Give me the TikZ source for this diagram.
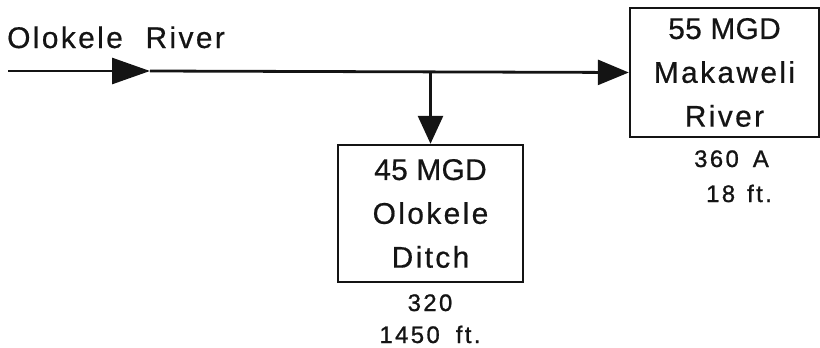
\documentclass[tikz,border=0pt]{standalone}
\usepackage{fontspec}
\setmainfont{Liberation Sans}
\newfontfamily\boxfont[LetterSpace=8,FakeBold=0.6]{Liberation Sans}
\newfontfamily\mgdfont[LetterSpace=1,FakeBold=0.6]{Liberation Sans}
\newfontfamily\tagfont[LetterSpace=10,FakeBold=1]{Liberation Sans}
\usetikzlibrary{arrows.meta,positioning}
\definecolor{dgInk}{HTML}{141414}
\tikzset{
 chart/.style={line join=miter,text=dgInk,x=1bp,y=1bp},
 flowbox/.style={rectangle,draw=dgInk,line width=2.4pt,inner sep=0pt,align=center,
   font=\boxfont\fontsize{30}{44}\selectfont},
 channel/.style={draw=dgInk,line width=2.8pt},
 headL/.style={-{Triangle[length=38bp,width=26bp]}},
 headM/.style={-{Triangle[length=31bp,width=25bp]}},
 headS/.style={-{Triangle[length=28bp,width=25bp]}},
 rivertitle/.style={font=\boxfont\fontsize{30}{36}\selectfont,inner sep=0pt,anchor=base west},
 tag/.style={font=\tagfont\fontsize{24}{28}\selectfont,inner sep=0pt,anchor=base}
}

\begin{document}
\begin{tikzpicture}[chart]
 \useasboundingbox (0,0) rectangle (820,347);
 % the two boxes
 \node[flowbox,minimum width=189bp,minimum height=129bp] (makaweli) at (724.5,274.5)
   {{\mgdfont 55 MGD}\\Makaweli\\River};
 \node[flowbox,minimum width=185bp,minimum height=137bp] (ditch) at (430.5,133.5)
   {{\mgdfont 45 MGD}\\Olokele\\Ditch};
 \node[rivertitle] (rivername) at (7,299) {Olokele\hspace{12bp} River};
 % river line
 \coordinate (src) at (8,276);
 \coordinate (mid) at (150,276);
 \coordinate (split) at (430.5,276);
 \draw[channel,headL] (src) -- (mid);
 \draw[channel,headM] (mid) -- (makaweli.west);
 \draw[channel,headS] (split) -- (ditch.north);
 % figures under the boxes
 \node[tag] (makArea) at (731.5,180) {360\hspace{14bp}A};
 \node[tag] (makHead) at (739,145) {18\hspace{12bp}ft.};
 \node[tag] (ditchArea) at (430,36) {320};
 \node[tag] (ditchHead) at (430,4) {1450\hspace{16bp}ft.};
\end{tikzpicture}
\end{document}
